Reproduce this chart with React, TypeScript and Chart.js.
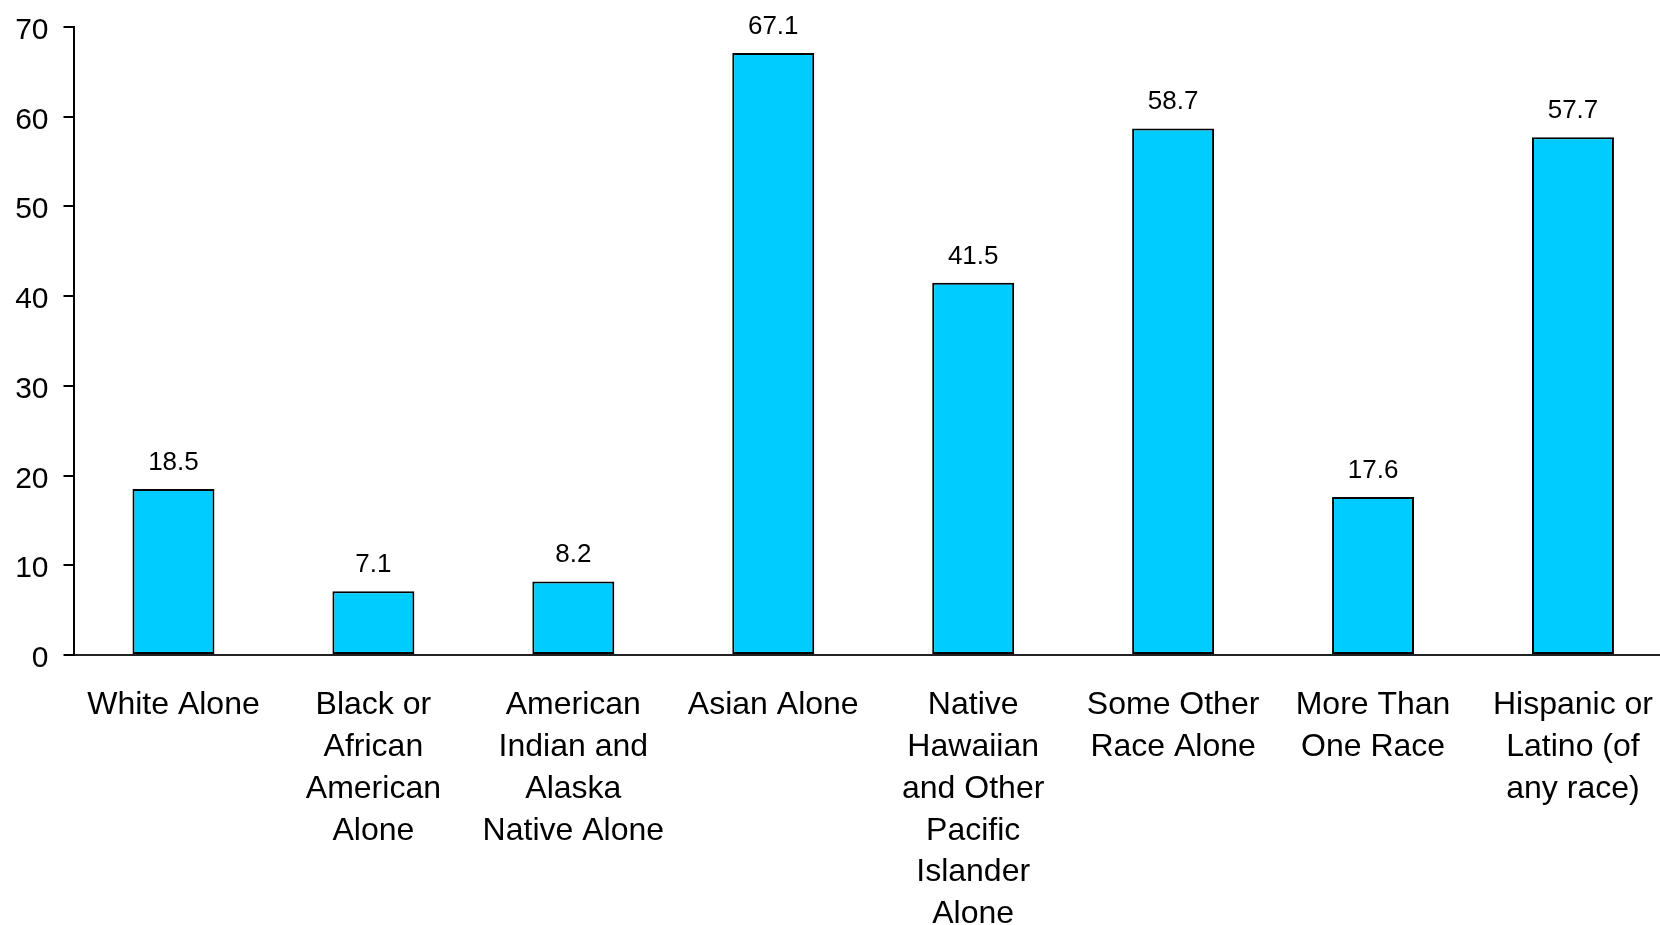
import React, { useEffect, useRef } from "react";
import { Chart, registerables } from "chart.js";

Chart.register(...registerables);

// Race / ethnicity groups, each wrapped onto several lines for the axis
const categories: string[][] = [
  ["White Alone"],
  ["Black or", "African", "American", "Alone"],
  ["American", "Indian and", "Alaska", "Native Alone"],
  ["Asian Alone"],
  ["Native", "Hawaiian", "and Other", "Pacific", "Islander", "Alone"],
  ["Some Other", "Race Alone"],
  ["More Than", "One Race"],
  ["Hispanic or", "Latino (of", "any race)"],
];

const values: number[] = [18.5, 7.1, 8.2, 67.1, 41.5, 58.7, 17.6, 57.7];

const yTickValues: number[] = [0, 10, 20, 30, 40, 50, 60, 70];

const FONT = "'Liberation Sans', Arial, Helvetica, sans-serif";

// Writes each bar's value just above its top edge
const valueLabels = {
  id: "valueLabels",
  afterDatasetsDraw(chart: any) {
    const { ctx } = chart;
    const meta = chart.getDatasetMeta(0);
    ctx.save();
    ctx.font = `26px ${FONT}`;
    ctx.fillStyle = "#000";
    ctx.textAlign = "center";
    ctx.textBaseline = "alphabetic";
    meta.data.forEach((bar: any, i: number) => {
      ctx.fillText(values[i].toFixed(1), bar.x, bar.y - 19);
    });
    ctx.restore();
  },
};

// Y tick numbers, set on a baseline so the digits sit centred on each tick mark
const yTickLabels = {
  id: "yTickLabels",
  afterDraw(chart: any) {
    const { ctx } = chart;
    const scale = chart.scales.y;
    ctx.save();
    ctx.font = `30px ${FONT}`;
    ctx.fillStyle = "#000";
    ctx.textAlign = "right";
    ctx.textBaseline = "alphabetic";
    yTickValues.forEach((v) => {
      const y = scale.getPixelForValue(v);
      ctx.fillText(String(v), scale.right - 25, y + 12);
    });
    ctx.restore();
  },
};

export default function App() {
  const canvasRef = useRef<HTMLCanvasElement | null>(null);

  useEffect(() => {
    if (!canvasRef.current) return;
    const chart = new Chart(canvasRef.current, {
      type: "bar",
      data: {
        labels: categories,
        datasets: [
          {
            data: values,
            backgroundColor: "#00CCFF",
            borderColor: "#000",
            borderWidth: 2,
            borderSkipped: false,
            barPercentage: 0.41,
            categoryPercentage: 1,
          },
        ],
      },
      options: {
        responsive: false,
        animation: false,
        devicePixelRatio: 1,
        layout: { padding: { top: 27, right: 0, bottom: 0, left: 0 } },
        plugins: {
          legend: { display: false },
          tooltip: { enabled: false },
        },
        scales: {
          x: {
            offset: true,
            grid: { display: false, drawTicks: false },
            border: { display: true, color: "#222", width: 2 },
            ticks: {
              color: "#000",
              padding: 29,
              maxRotation: 0,
              autoSkip: false,
              font: { family: FONT, size: 32, lineHeight: 1.31 },
            },
            afterFit: (scale: any) => {
              scale.height = 270;
            },
          },
          y: {
            min: 0,
            max: 70,
            afterBuildTicks: (scale: any) => {
              scale.ticks = yTickValues.map((v) => ({ value: v }));
            },
            grid: {
              drawOnChartArea: false,
              drawTicks: true,
              tickLength: 10,
              color: "#000",
              lineWidth: 2,
            },
            border: { display: true, color: "#000", width: 2 },
            ticks: {
              display: false,
              color: "#000",
              padding: 15,
              font: { family: FONT, size: 30 },
            },
            afterFit: (scale: any) => {
              scale.width = 73.5;
              scale.paddingTop = 0;
              scale.paddingBottom = 0;
            },
          },
        },
      },
      plugins: [valueLabels, yTickLabels],
    });
    return () => chart.destroy();
  }, []);

  return (
    <div
      style={{
        position: "absolute",
        left: 0,
        top: 0,
        width: 1660,
        height: 925,
        overflow: "hidden",
        background: "#fff",
      }}
    >
      <canvas ref={canvasRef} width={1682} height={925} style={{ display: "block" }} />
    </div>
  );
}
